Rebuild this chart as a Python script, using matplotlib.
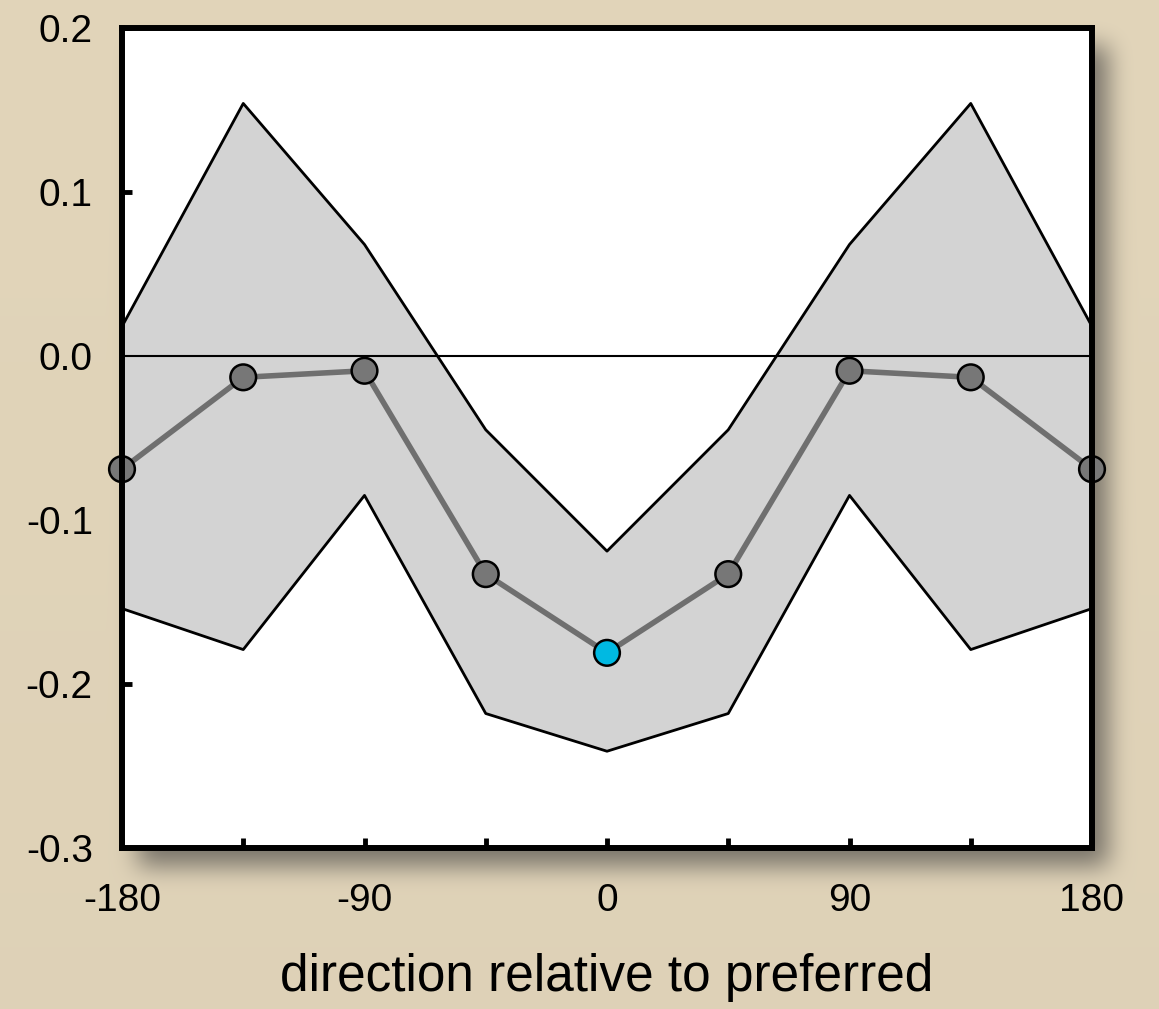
import numpy as np
import matplotlib
matplotlib.use('Agg')
import matplotlib.pyplot as plt
from matplotlib.ticker import FixedLocator

# data
angles = [-180, -135, -90, -45, 0, 45, 90, 135, 180]
mean_resp = [-0.069, -0.013, -0.009, -0.133, -0.181, -0.133, -0.009, -0.013, -0.069]
upper_band = [0.018, 0.154, 0.068, -0.045, -0.119, -0.045, 0.068, 0.154, 0.018]
lower_band = [-0.154, -0.179, -0.085, -0.218, -0.241, -0.218, -0.085, -0.179, -0.154]
pref_index = 4  # the preferred direction gets the cyan marker
xtick_labels = [-180, -90, 0, 90, 180]
ytick_values = [-0.3, -0.2, -0.1, 0.0, 0.1, 0.2]

plt.rcParams['font.family'] = ['Liberation Sans', 'DejaVu Sans']
plt.rcParams['axes.unicode_minus'] = False

W, H = 1159, 1009
fig = plt.figure(figsize=(W / 100, H / 100), dpi=100)

# axes box in pixels (left, top, right, bottom)
bx0, by0, bx1, by1 = 122, 28, 1092, 848


def box_blur(a, r, axis):
    pads = [(r, r) if k == axis else (0, 0) for k in range(2)]
    c = np.cumsum(np.pad(a, pads, mode='edge'), axis=axis)
    c = np.insert(c, 0, 0, axis=axis)
    n = 2 * r + 1
    if axis == 0:
        return (c[n:] - c[:-n]) / n
    return (c[:, n:] - c[:, :-n]) / n


# parchment background with a soft drop shadow behind the plot box
mask = np.zeros((H, W))
dx, dy = 16, 18
mask[by0 + dy:by1 + dy, bx0 + dx:bx1 + dx] = 1.0
for _ in range(3):
    mask = box_blur(mask, 11, 0)
    mask = box_blur(mask, 11, 1)
beige = np.array([226, 213, 186]) / 255.0
dark = np.array([95, 92, 86]) / 255.0
yy = np.linspace(0, 1, H)[:, None, None]
base = beige[None, None, :] * (1.0 - 0.015 * yy)
alpha = 0.8 * mask[:, :, None]
img = base * (1 - alpha) + dark[None, None, :] * alpha

bg = fig.add_axes([0, 0, 1, 1], zorder=-1)
bg.imshow(img, aspect='auto', interpolation='bilinear')
bg.axis('off')

ax = fig.add_axes([bx0 / W, 1 - by1 / H, (bx1 - bx0) / W, (by1 - by0) / H])
ax.set_facecolor('white')

ax.fill_between(angles, lower_band, upper_band, color='#d3d3d3', lw=0, zorder=1)
ax.plot(angles, upper_band, color='black', lw=2.0, zorder=2)
ax.plot(angles, lower_band, color='black', lw=2.0, zorder=2)
ax.axhline(0, color='black', lw=1.5, zorder=3)

ax.plot(angles, mean_resp, color='#6f6f6f', lw=4.0, zorder=4, solid_capstyle='round')
face = ['#777777'] * len(angles)
face[pref_index] = '#00b9e2'
ax.scatter(angles, mean_resp, s=18.5 ** 2, c=face, edgecolors='black',
           linewidths=1.8, zorder=5, clip_on=False)

ax.set_xlim(-180, 180)
ax.set_ylim(-0.3, 0.2)
ax.set_axisbelow(True)

ax.set_xticks(xtick_labels)
ax.set_xticklabels([str(v) for v in xtick_labels])
ax.xaxis.set_minor_locator(FixedLocator([-135, -45, 45, 135]))
ax.set_yticks(ytick_values)
ax.set_yticklabels([f'{v:.1f}' for v in ytick_values])

ax.tick_params(axis='both', which='both', direction='in', length=7, width=3.5,
               color='black', labelsize=28, top=False, right=False)
ax.tick_params(axis='x', which='both', pad=25)
ax.tick_params(axis='y', which='both', pad=21)

for sp in ax.spines.values():
    sp.set_linewidth(4.3)
    sp.set_color('black')
    sp.set_zorder(6)

ax.set_xlabel('direction relative to preferred', fontsize=37, labelpad=25)

fig.savefig('out.png', dpi=100)
